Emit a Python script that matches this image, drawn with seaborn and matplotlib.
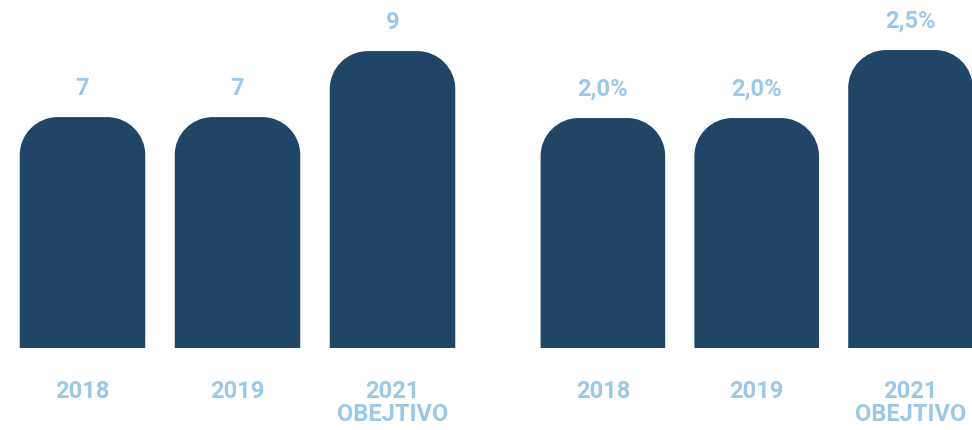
import numpy as np
import pandas as pd
import seaborn as sns
import matplotlib.pyplot as plt
from matplotlib.path import Path
from matplotlib.patches import PathPatch

# data
years = ["2018", "2019", "2021\nOBEJTIVO"]
count_values = [7, 7, 9]
count_labels = ["7", "7", "9"]
pct_values = [2.0, 2.0, 2.5]
pct_labels = ["2,0%", "2,0%", "2,5%"]

BAR = "#1f4666"
LABEL = "#9cc8e8"

sns.set_theme(style="white")
plt.rcParams["font.family"] = ["Roboto", "DejaVu Sans"]

W, H = 972, 431
fig = plt.figure(figsize=(W / 100, H / 100), dpi=100)


def round_tops(ax, r_px=38):
    # swap the square bars for bars with rounded top corners
    p0 = ax.transData.transform((0, 0))
    p1 = ax.transData.transform((1, 1))
    sx, sy = p1[0] - p0[0], p1[1] - p0[1]
    rx, ry = r_px / sx, r_px / sy
    k = 0.5523
    for bar in list(ax.patches):
        x, y0 = bar.get_x(), bar.get_y()
        w, h = bar.get_width(), bar.get_height()
        top = y0 + h
        verts = [
            (x, y0), (x, top - ry),
            (x, top - ry + k * ry), (x + rx - k * rx, top), (x + rx, top),
            (x + w - rx, top),
            (x + w - rx + k * rx, top), (x + w, top - ry + k * ry), (x + w, top - ry),
            (x + w, y0), (x, y0),
        ]
        codes = [Path.MOVETO, Path.LINETO,
                 Path.CURVE4, Path.CURVE4, Path.CURVE4,
                 Path.LINETO,
                 Path.CURVE4, Path.CURVE4, Path.CURVE4,
                 Path.LINETO, Path.CLOSEPOLY]
        patch = PathPatch(Path(verts, codes), facecolor=bar.get_facecolor(),
                          edgecolor="none", clip_on=True)
        bar.remove()
        ax.add_patch(patch)


def panel(rect, values, labels, xlim, ylim):
    ax = fig.add_axes(rect)
    df = pd.DataFrame({"year": years, "value": values})
    sns.barplot(data=df, x="year", y="value", color=BAR, saturation=1,
                width=0.81, ax=ax)
    ax.set_xlim(*xlim)
    ax.set_ylim(*ylim)
    round_tops(ax)
    for i, (v, lab) in enumerate(zip(values, labels)):
        ax.annotate(lab, (i, v), xytext=(0, 21.5), textcoords="offset points",
                    ha="center", va="center", fontsize=17, fontweight="bold",
                    color=LABEL)
    ax.set_xlabel("")
    ax.set_ylabel("")
    ax.set_yticks([])
    ax.tick_params(axis="x", length=0, pad=22, colors=LABEL)
    for t in ax.get_xticklabels():
        t.set_fontsize(17)
        t.set_fontweight("bold")
        t.set_linespacing(1.02)
        t.set_verticalalignment("top")
    sns.despine(ax=ax, left=True, bottom=True)
    ax.patch.set_alpha(0)
    return ax


bottom = (H - 349) / H
height = 349 / H
panel([5 / W, bottom, 465 / W, height], count_values, count_labels,
      (-0.5, 2.5), (0, 10.58))
panel([526 / W, bottom, 446 / W, height], pct_values, pct_labels,
      (-0.5, 2.4), (0.31, 2.875))

fig.savefig("out.png", dpi=100)
